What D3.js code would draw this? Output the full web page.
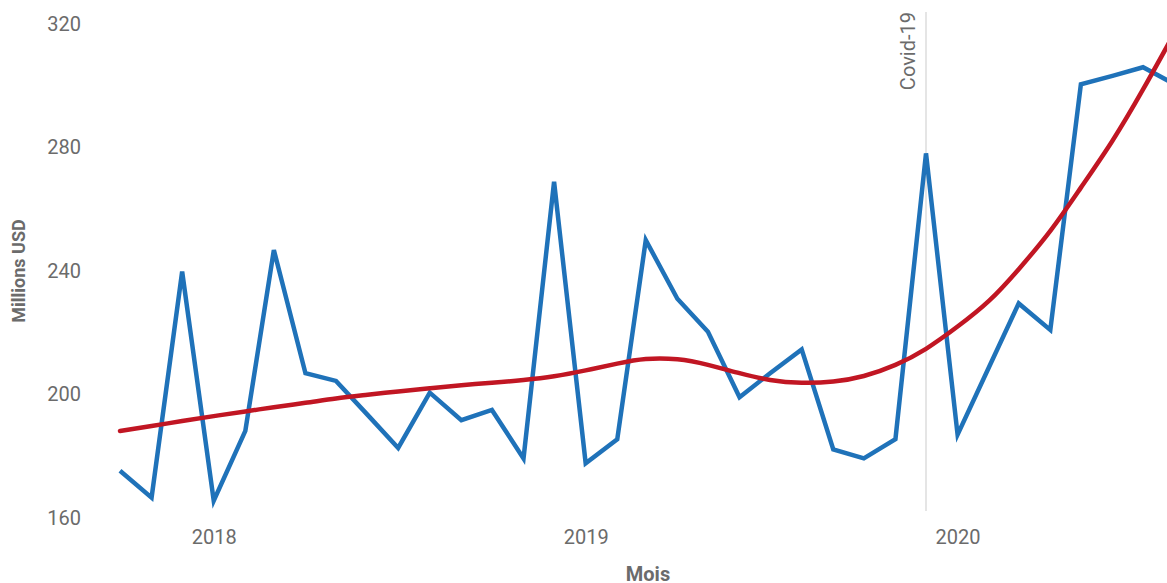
<!DOCTYPE html>
<html>
<head>
<meta charset="utf-8">
<script src="https://cdn.jsdelivr.net/npm/d3@7"></script>
<style>
  html, body { margin: 0; padding: 0; background: #fff; overflow: hidden; }
  svg { display: block; font-family: Roboto, "Noto Sans", sans-serif; }
</style>
</head>
<body>
<svg id="chart" width="1167" height="583"></svg>
<script>
// Monthly values, October 2017 to August 2020 (millions USD)
const months = [
  "2017-10","2017-11","2017-12",
  "2018-01","2018-02","2018-03","2018-04","2018-05","2018-06",
  "2018-07","2018-08","2018-09","2018-10","2018-11","2018-12",
  "2019-01","2019-02","2019-03","2019-04","2019-05","2019-06",
  "2019-07","2019-08","2019-09","2019-10","2019-11","2019-12",
  "2020-01","2020-02","2020-03","2020-04","2020-05","2020-06",
  "2020-07","2020-08"
];
const monthlyValues = [
  175.3, 166.6, 239.8,
  165.6, 188.2, 246.8, 206.9, 204.4, 193.4,
  182.7, 200.6, 191.7, 195.0, 179.3, 268.9,
  177.7, 185.5, 250.0, 231.0, 220.3, 199.1,
  206.9, 214.6, 182.2, 179.3, 185.5, 278.1,
  187.0, 209.0, 229.5, 220.9, 300.5, 303.2,
  306.0, 300.5
];
// Smoothed trend at the same months
const trendValues = [
  188.2, 189.8, 191.4,
  193.0, 194.5, 195.9, 197.3, 198.7, 199.9,
  201.0, 202.0, 203.0, 203.8, 204.7, 205.9,
  207.8, 210.0, 211.5, 211.4, 209.6, 206.9,
  204.7, 203.8, 204.2, 206.0, 209.6, 214.8,
  222.0, 230.4, 240.6, 253.0, 267.0, 282.2,
  298.8, 317.2
];
const yTicks = [160, 200, 240, 280, 320];
const xTicks = ["2018-01", "2019-01", "2020-01"];
const xTickLabels = ["2018", "2019", "2020"];
const eventDate = "2019-12";
const eventLabel = "Covid-19";
const yTitle = "Millions USD";
const xTitle = "Mois";

const parse = d3.timeParse("%Y-%m");
const dates = months.map(parse);
const series = dates.map((d, i) => ({ date: d, value: monthlyValues[i] }));
const trend = dates.map((d, i) => ({ date: d, value: trendValues[i] }));

const svg = d3.select("#chart");

// ~1.019 px per day; the plot runs past the right edge of the view
const x = d3.scaleTime()
  .domain([parse("2017-10"), parse("2019-12")])
  .range([120, 926]);
const y = d3.scaleLinear()
  .domain([160, 320])
  .range([518, 24]);

const tickColor = "#6b6b6b";

// Y axis (labels only)
const yAxis = svg.append("g")
  .attr("transform", "translate(81,0)")
  .call(d3.axisLeft(y).tickValues(yTicks).tickSize(0).tickPadding(0));
yAxis.select(".domain").remove();
yAxis.selectAll("text")
  .attr("fill", tickColor)
  .style("font-size", "20px")
  .style("font-family", "Roboto, sans-serif");

// X axis (labels only)
const xAxis = svg.append("g")
  .attr("transform", "translate(0,530)")
  .call(d3.axisBottom(x)
    .tickValues(xTicks.map(parse))
    .tickFormat((d, i) => xTickLabels[i])
    .tickSize(0).tickPadding(0));
xAxis.select(".domain").remove();
xAxis.selectAll("text")
  .attr("fill", tickColor)
  .attr("dy", "0.71em")
  .style("font-size", "20px")
  .style("font-family", "Roboto, sans-serif");

// Axis titles
svg.append("text")
  .attr("transform", "translate(25,271) rotate(-90)")
  .attr("text-anchor", "middle")
  .attr("fill", tickColor)
  .style("font-size", "18px")
  .style("font-weight", "700")
  .text(yTitle);

svg.append("text")
  .attr("x", 648)
  .attr("y", 581)
  .attr("text-anchor", "middle")
  .attr("fill", tickColor)
  .style("font-size", "20px")
  .style("font-weight", "700")
  .text(xTitle);

// Event marker
const ex = x(parse(eventDate));
svg.append("line")
  .attr("x1", ex).attr("x2", ex)
  .attr("y1", 12).attr("y2", 511)
  .attr("stroke", "#dcdcdc")
  .attr("stroke-width", 1.5);
svg.append("text")
  .attr("transform", `translate(${ex - 11},12) rotate(-90)`)
  .attr("text-anchor", "end")
  .attr("fill", tickColor)
  .style("font-size", "20px")
  .text(eventLabel);

// Monthly series
const line = d3.line()
  .x(d => x(d.date))
  .y(d => y(d.value));

svg.append("path")
  .datum(series)
  .attr("fill", "none")
  .attr("stroke", "#1f72b9")
  .attr("stroke-width", 4.5)
  .attr("stroke-linejoin", "miter")
  .attr("stroke-linecap", "butt")
  .attr("d", line);

// Trend
const trendLine = d3.line()
  .x(d => x(d.date))
  .y(d => y(d.value))
  .curve(d3.curveNatural);

svg.append("path")
  .datum(trend)
  .attr("fill", "none")
  .attr("stroke", "#c11623")
  .attr("stroke-width", 4.5)
  .attr("stroke-linecap", "round")
  .attr("d", trendLine);
</script>
</body>
</html>
